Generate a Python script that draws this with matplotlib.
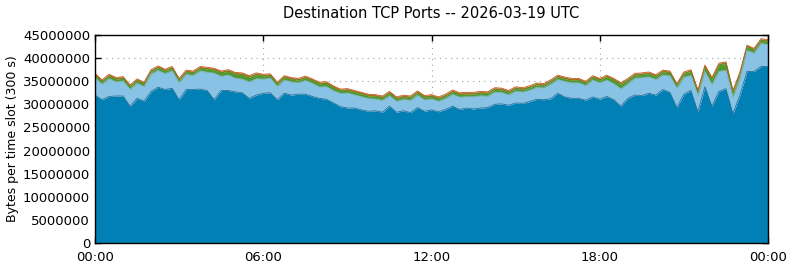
import matplotlib
matplotlib.use('Agg')
import matplotlib.pyplot as plt
from matplotlib.ticker import FuncFormatter
import numpy as np

# values in millions of bytes per 300 s slot, read every 15 minutes (00:00 .. 24:00)
total = [36.7, 35.3, 36.5, 35.8, 36.0, 34.2, 35.5, 34.8, 37.5, 38.3,
         37.6, 38.2, 35.6, 37.4, 37.2, 38.2, 38.0, 37.8, 37.2, 37.5,
         36.9, 36.8, 36.2, 36.8, 36.5, 36.6, 34.8, 36.2, 35.8, 35.6,
         36.1, 35.5, 34.8, 34.9, 34.0, 33.3, 33.4, 33.0, 32.6, 32.2,
         32.1, 31.8, 32.8, 31.6, 32.0, 31.8, 32.9, 31.9, 32.1, 31.6,
         32.2, 33.1, 32.5, 32.6, 32.6, 32.8, 32.7, 33.6, 33.5, 33.0,
         33.8, 33.6, 34.0, 34.6, 34.5, 35.3, 36.3, 35.9, 35.6, 35.6,
         35.0, 36.2, 35.6, 36.3, 35.6, 34.7, 35.6, 36.7, 36.8, 37.0,
         36.4, 37.4, 37.2, 34.5, 37.0, 37.5, 33.1, 38.5, 35.8, 38.9,
         39.2, 33.0, 37.0, 42.8, 42.1, 44.2, 44.0]
tcp_main = [32.0, 31.0, 31.7, 31.8, 31.8, 29.6, 31.3, 30.7, 32.8, 33.7,
            33.2, 33.5, 31.0, 33.2, 33.2, 33.3, 33.0, 31.0, 33.0, 33.0,
            32.7, 32.5, 31.3, 32.0, 32.4, 32.5, 31.0, 32.4, 32.0, 32.2,
            32.2, 31.7, 31.3, 31.1, 30.3, 29.5, 29.2, 29.2, 28.8, 28.5,
            28.6, 28.3, 29.6, 28.3, 28.6, 28.2, 29.3, 28.5, 28.8, 28.4,
            28.9, 29.6, 28.9, 29.2, 29.0, 29.2, 29.3, 30.0, 30.1, 29.8,
            30.3, 30.2, 30.6, 31.1, 31.0, 31.2, 32.4, 31.6, 31.3, 31.3,
            30.9, 31.6, 31.1, 31.7, 31.0, 29.6, 31.3, 32.0, 31.9, 32.4,
            32.0, 33.2, 32.6, 29.3, 32.2, 33.0, 28.4, 33.8, 29.6, 32.8,
            33.4, 28.0, 32.0, 37.1, 37.1, 38.2, 38.2]
tcp_green = [0.6, 0.6, 0.6, 0.6, 0.6, 0.6, 0.6, 0.6, 0.6, 0.6,
             0.6, 0.6, 0.6, 0.6, 0.6, 0.6, 0.7, 0.7, 0.8, 0.8,
             0.9, 1.0, 1.0, 0.9, 0.7, 0.6, 0.6, 0.6, 0.6, 0.6,
             0.6, 0.6, 0.7, 0.7, 0.7, 0.6, 0.6, 0.6, 0.6, 0.6,
             0.6, 0.6, 0.6, 0.6, 0.6, 0.6, 0.6, 0.6, 0.6, 0.6,
             0.6, 0.6, 0.6, 0.6, 0.6, 0.6, 0.6, 0.6, 0.6, 0.6,
             0.6, 0.6, 0.6, 0.6, 0.6, 0.6, 0.6, 0.6, 0.6, 0.6,
             0.6, 0.6, 0.6, 0.7, 0.8, 1.0, 0.8, 0.7, 0.7, 0.7,
             0.7, 0.7, 0.7, 0.7, 0.8, 0.9, 0.9, 1.1, 1.2, 1.4,
             1.5, 1.2, 1.0, 0.8, 0.7, 0.7, 0.7]
tcp_orange = [0.35] * 97

hour_ticks = [0, 6, 12, 18, 24]
hour_labels = ['00:00', '06:00', '12:00', '18:00', '00:00']
y_ticks = np.arange(0, 45000001, 5000000)

hours = np.arange(len(total)) * 0.25
M = 1e6
dark = np.array(tcp_main) * M
green = np.array(tcp_green) * M
orange = np.array(tcp_orange) * M
light = np.array(total) * M - dark - green - orange

layers = [dark, light, green, orange]
fills = ['#0080b4', '#88c2e4', '#4e9a2c', '#d2661e']
edges = ['#2a7198', '#80b6d6', '#4a9228', '#c0581c']

fig = plt.figure(figsize=(7.9, 2.67), dpi=100)
ax = fig.add_axes([95 / 790, 1 - 243 / 267, (768 - 95) / 790, (243 - 35) / 267])

base = np.zeros_like(dark)
for lay, fc, ec in zip(layers, fills, edges):
    ax.fill_between(hours, base, base + lay, color=fc, linewidth=0, zorder=2)
    ax.plot(hours, base + lay, color=ec, linewidth=0.6, zorder=3)
    base = base + lay

ax.set_xlim(0, 24)
ax.set_ylim(0, 45000000)
ax.set_xticks(hour_ticks)
ax.set_xticklabels(hour_labels)
ax.set_yticks(y_ticks)
ax.yaxis.set_major_formatter(FuncFormatter(lambda v, p: '%d' % v))
ax.tick_params(direction='in', top=True, right=True, labelsize=9.5, length=4, width=1)
ax.tick_params(axis='x', pad=6)
ax.tick_params(axis='y', pad=3.5)
ax.grid(True, color='#a0a0a0', linestyle=(0, (1, 4)), linewidth=0.8, zorder=1)
for s in ax.spines.values():
    s.set_linewidth(1)
    s.set_zorder(5)

ax.set_ylabel('Bytes per time slot (300 s)', fontsize=9, labelpad=3)
ax.set_title('Destination TCP Ports -- 2026-03-19 UTC', fontsize=10.5, pad=12)

fig.savefig('out.png', dpi=100)
